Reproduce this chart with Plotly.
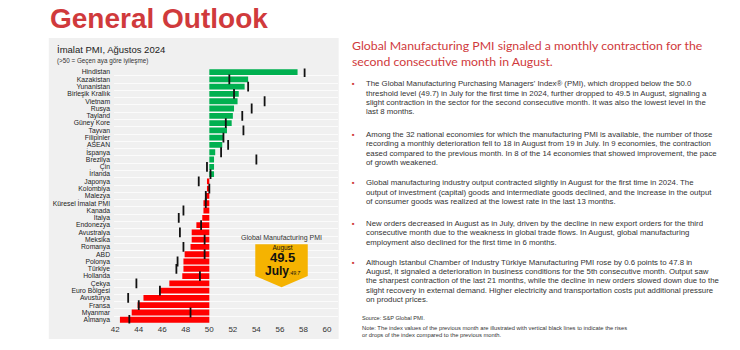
import plotly.graph_objects as go

countries = ["Hindistan", "Kazakistan", "Yunanistan", "Birleşik Krallık", "Vietnam", "Rusya",
             "Tayland", "Güney Kore", "Tayvan", "Filipinler", "ASEAN", "İspanya", "Brezilya",
             "Çin", "İrlanda", "Japonya", "Kolombiya", "Malezya", "Küresel İmalat PMI", "Kanada",
             "İtalya", "Endonezya", "Avustralya", "Meksika", "Romanya", "ABD", "Polonya",
             "Türkiye", "Hollanda", "Çekya", "Euro Bölgesi", "Avusturya", "Fransa", "Myanmar",
             "Almanya"]
august = [57.5, 53.3, 53.0, 52.5, 52.4, 52.1, 52.0, 51.9, 51.5, 51.2, 51.1, 50.5, 50.4,
          50.4, 50.4, 49.8, 49.8, 49.7, 49.5, 49.5, 49.4, 48.9, 48.5, 48.5, 48.4, 47.9,
          47.8, 47.8, 47.7, 46.6, 45.8, 44.4, 43.9, 43.4, 42.4]
july = [58.1, 51.7, 53.3, 52.1, 54.7, 53.6, 52.8, 51.4, 52.9, 51.2, 51.6, 51.0, 54.0,
        49.8, 50.1, 49.1, 50.0, 49.7, 49.7, 47.8, 47.4, 49.3, 47.5, 49.6, 47.8, 49.6,
        47.3, 47.2, 49.2, 43.8, 45.8, 43.1, 44.0, 48.4, 43.2]
x_ticks = [42, 44, 46, 48, 50, 52, 54, 56, 58, 60]
threshold = 50
global_aug = 49.5
global_jul = 49.7

W, H = 740, 350
def px(x):
    return x / W
def py(y):
    return 1 - y / H

idx = list(range(len(countries)))
colors = ["#00b050" if v >= threshold else "#ff0000" for v in august]

fig = go.Figure()
fig.add_trace(go.Bar(
    y=idx, x=[v - threshold for v in august], base=threshold, orientation="h",
    marker=dict(color=colors, line=dict(width=0)), width=0.8, showlegend=False,
    hoverinfo="skip"))
fig.add_trace(go.Scatter(
    y=idx, x=july, mode="markers",
    marker=dict(symbol="line-ns", size=7, line=dict(width=1.8, color="#111111"), color="#111111"),
    showlegend=False, hoverinfo="skip"))

LBL = "Liberation Sans"
fig.update_layout(
    width=W, height=H, margin=dict(l=0, r=0, t=0, b=0),
    paper_bgcolor="white", plot_bgcolor="#f0f0f0",
    xaxis=dict(domain=[px(111.5), px(336.5)], range=[41.9, 60.95], tickvals=x_ticks,
               showgrid=False, zeroline=False, showline=False, ticks="",
               tickfont=dict(family=LBL, size=8, color="#333333")),
    yaxis=dict(domain=[py(324.35), py(68.65)], range=[len(countries) - 0.5, -0.5],
               tickmode="array", tickvals=idx, ticktext=countries, showgrid=False,
               zeroline=False, showline=False, ticks="", ticklabelstandoff=3,
               tickfont=dict(family=LBL, size=6.8, color="#222222"),
               minor=dict(tick0=0.5, dtick=1, showgrid=True, gridcolor="#fbfbfb", gridwidth=1)),
)

shapes = []
shapes.append(dict(type="rect", xref="paper", yref="paper", x0=px(46), x1=px(337),
                   y0=py(340), y1=py(38), fillcolor="#f0f0f0", line=dict(width=0), layer="below"))
pts = [(253.3, 245), (306, 245), (306, 276.7), (279.7, 288), (253.3, 276.7)]
path = "M " + " L ".join(f"{px(a):.5f},{py(b):.5f}" for a, b in pts) + " Z"
shapes.append(dict(type="path", xref="paper", yref="paper", path=path,
                   fillcolor="#f5b301", line=dict(width=0)))
fig.update_layout(shapes=shapes)

ann = []
def text(x, y, t, size, color="#333333", family=LBL, xanchor="left", yanchor="middle", align="left"):
    ann.append(dict(xref="paper", yref="paper", x=px(x), y=py(y), text=t, showarrow=False,
                    xanchor=xanchor, yanchor=yanchor, align=align,
                    font=dict(size=size, color=color, family=family)))

RED = "#d03a3c"
text(45, 19, "<b>General Outlook</b>", 28, RED)
text(52, 50, "İmalat PMI, Ağustos 2024", 9.5, "#222222")
text(52, 61, "(&gt;50 = Geçen aya göre iyileşme)", 6.3, "#333333")

text(279.7, 239, "Global Manufacturing PMI", 7, "#333333", xanchor="center")
badge = ("<span style='font-size:6.5px'>August</span><br>"
         f"<b><span style='font-size:13px'>{global_aug}</span></b><br>"
         f"<b><span style='font-size:12px'>July</span></b>"
         f"<i><span style='font-size:5px'>:{global_jul}</span></i>")
text(280.5, 262, badge, 9.5, "#111111", xanchor="center", align="center")

HF = "Lato"
text(348, 46, "Global Manufacturing PMI signaled a monthly contraction for the", 12.3, RED, HF)
text(348, 62, "second consecutive month in August.", 12.3, RED, HF)

bullets = [
    (84, ["The Global Manufacturing Purchasing Managers' Index® (PMI), which dropped below the 50.0",
          "threshold level (49.7) in July for the first time in 2024, further dropped to 49.5 in August, signaling a",
          "slight contraction in the sector for the second consecutive month. It was also the lowest level in the",
          "last 8 months."]),
    (135, ["Among the 32 national economies for which the manufacturing PMI is available, the number of those",
           "recording a monthly deterioration fell to 18 in August from 19 in July. In 9 economies, the contraction",
           "eased compared to the previous month. In 8 of the 14 economies that showed improvement, the pace",
           "of growth weakened."]),
    (183.3, ["Global manufacturing industry output contracted slightly in August for the first time in 2024. The",
             "output of investment (capital) goods and intermediate goods declined, and the increase in the output",
             "of consumer goods was realized at the lowest rate in the last 13 months."]),
    (224.3, ["New orders decreased in August as in July, driven by the decline in new export orders for the third",
             "consecutive month due to the weakness in global trade flows. In August, global manufacturing",
             "employment also declined for the first time in 6 months."]),
    (263, ["Although Istanbul Chamber of Industry Türkiye Manufacturing PMI rose by 0.6 points to 47.8 in",
           "August, it signaled a deterioration in business conditions for the 5th consecutive month. Output saw",
           "the sharpest contraction of the last 21 months, while the decline in new orders slowed down due to the",
           "slight recovery in external demand. Higher electricity and transportation costs put additional pressure",
           "on product prices."]),
]
BF = "Liberation Sans"
for y0, lines in bullets:
    text(352, y0, "■", 4, "#d03a3c", xanchor="center")
    for i, ln in enumerate(lines):
        text(362, y0 + i * 9.3, ln, 7.8, "#333333", BF)

text(358, 319, "Source: S&P Global PMI.", 5.6, "#333333", BF)
text(358, 329, "Note: The index values of the previous month are illustrated with vertical black lines to indicate the rises", 5.8, "#333333", BF)
text(358, 336, "or drops of the index compared to the previous month.", 5.8, "#333333", BF)

fig.update_layout(annotations=ann)
fig.write_html("out.html")
